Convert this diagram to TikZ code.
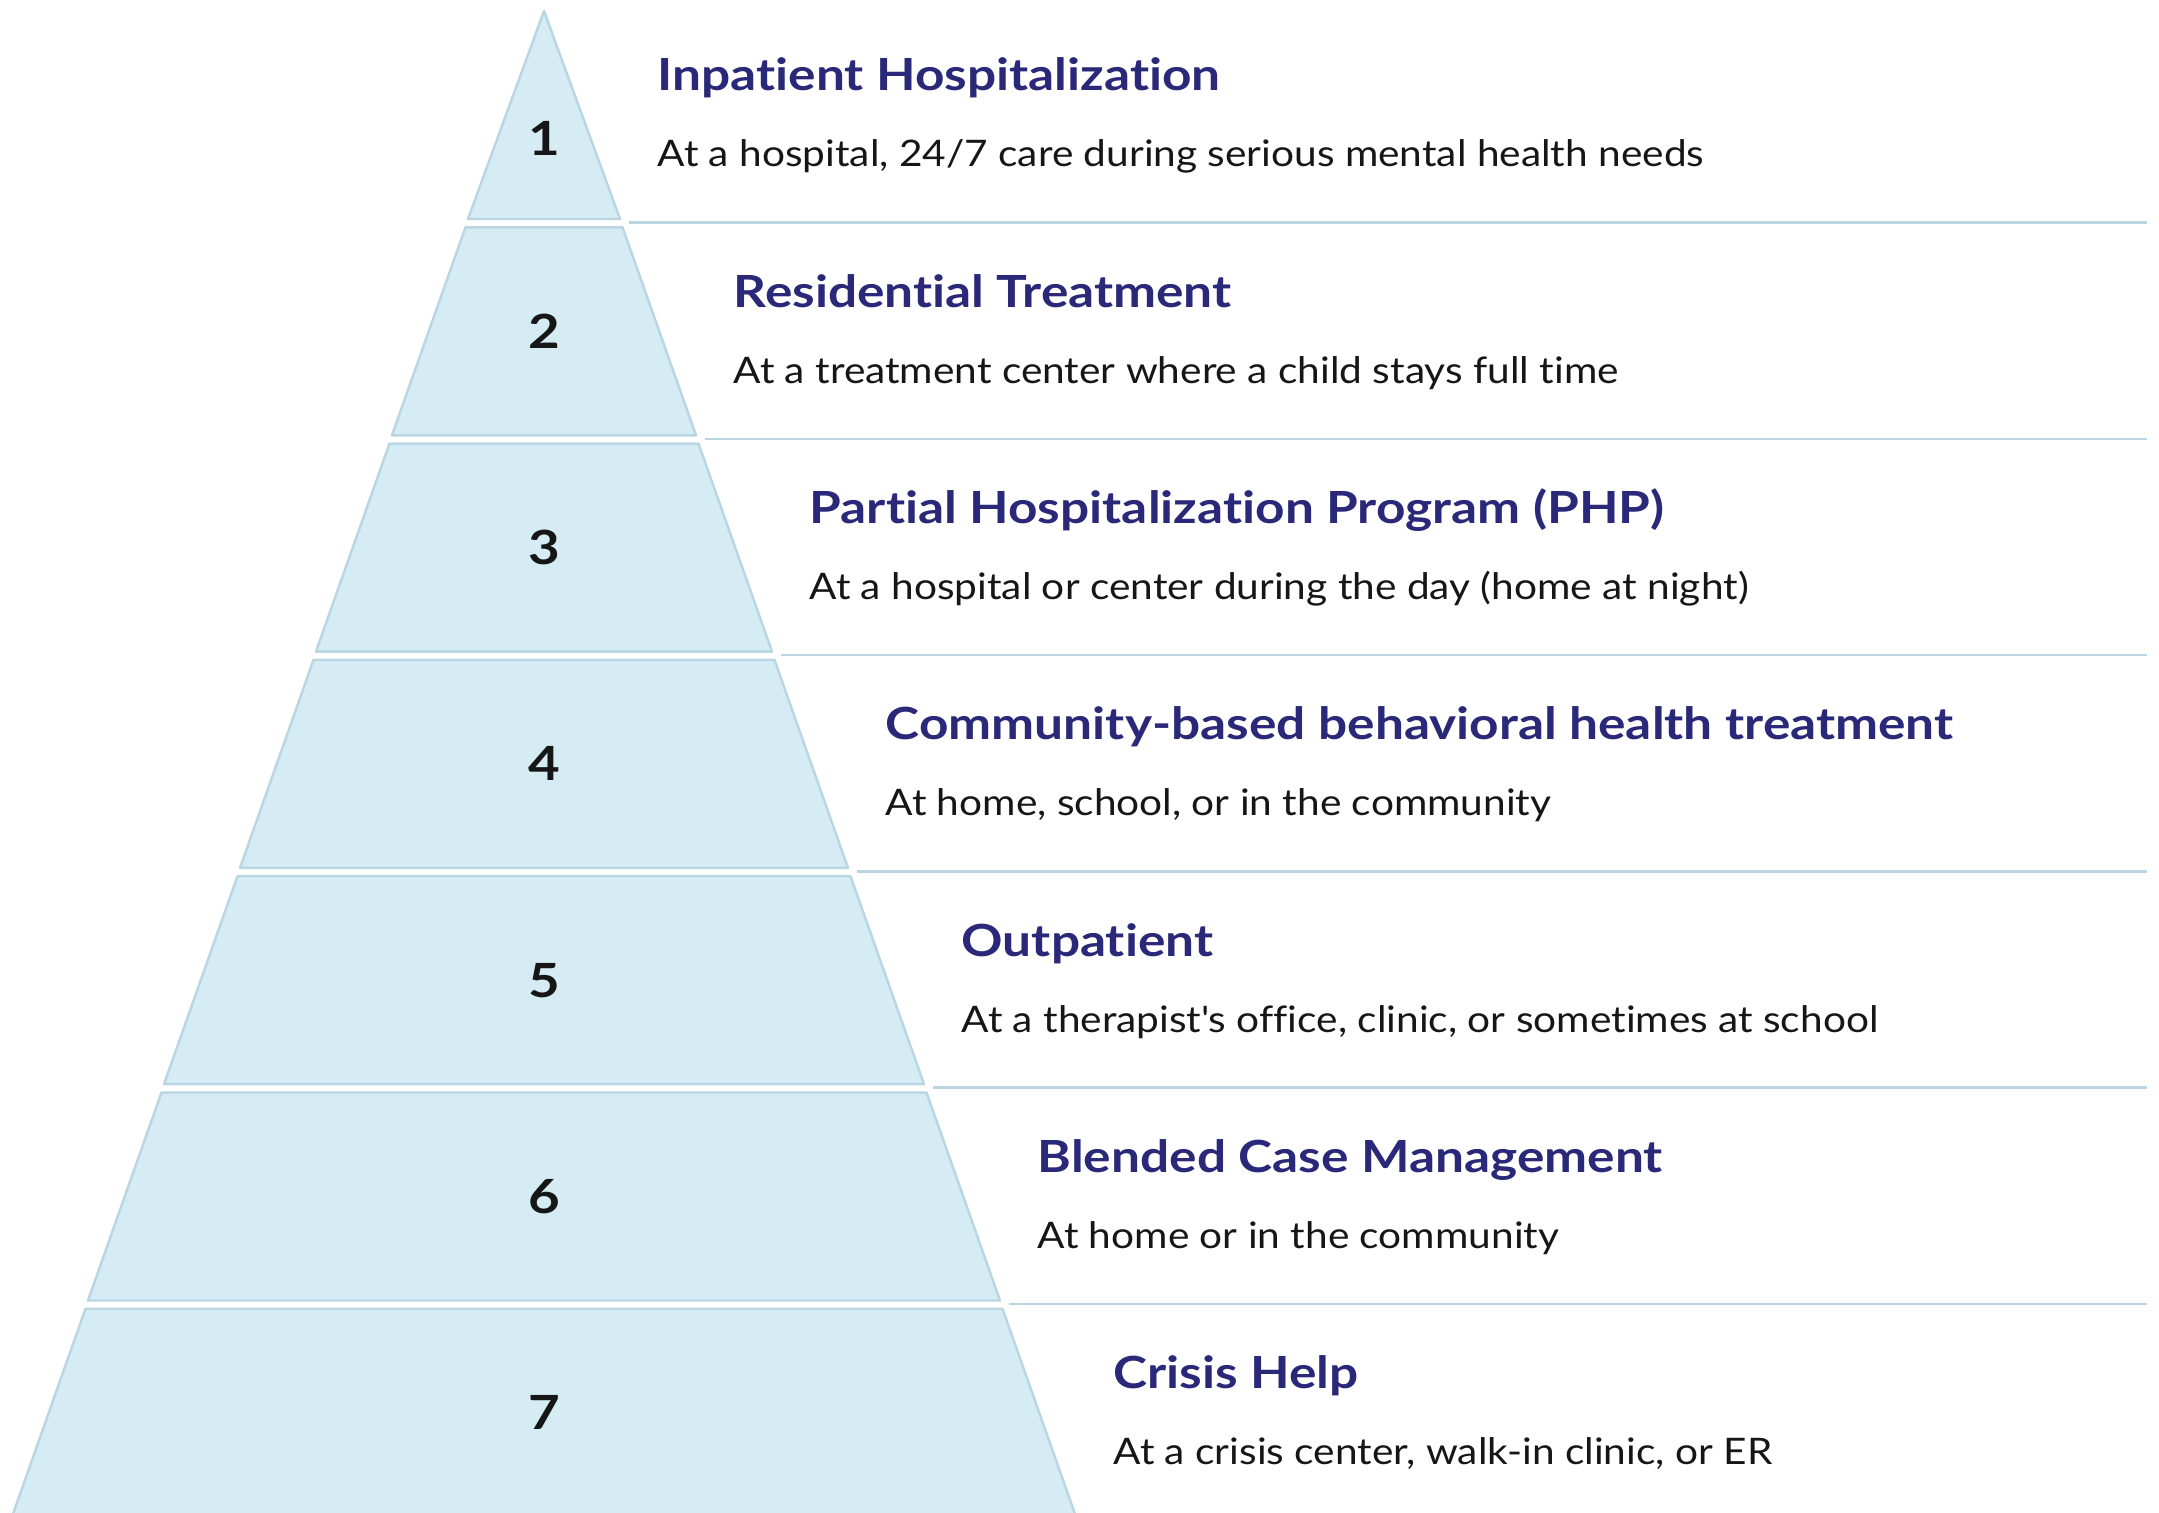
\documentclass[tikz,border=0pt]{standalone}
\usepackage{fontspec}
\setmainfont{Lato}[Ligatures={TeX,NoCommon}]
\newfontfamily\titlefont{Lato}[FakeStretch=1.16, Ligatures={TeX,NoCommon}]
\newfontfamily\descfont{Lato}[FakeStretch=1.11, Ligatures={TeX,NoCommon}]
\definecolor{tierfill}{HTML}{D5ECF5}
\definecolor{tierline}{HTML}{B9D6E2}
\definecolor{titleblue}{HTML}{2A2878}
\definecolor{numblack}{HTML}{161616}
\begin{document}
\begin{tikzpicture}
    [
        x = 0.01cm, y = -0.01cm,
        tier/.style = {fill = tierfill, draw = tierline, line width = 0.7pt, line join = round},
        divider/.style = {draw = tierline, line width = 0.7pt},
        tiernum/.style = {anchor = base, font = \fontsize{13.4}{16}\titlefont\bfseries, text = numblack},
        tiertitle/.style = {anchor = base west, inner sep = 0pt, font = \fontsize{12.6}{15}\titlefont\bfseries, text = titleblue},
        tierdesc/.style = {anchor = base west, inner sep = 0pt, font = \fontsize{10.4}{13}\descfont, text = numblack}
    ]
    \useasboundingbox (0,0) rectangle (2159,1513);
    % pyramid levels, top to bottom
    \foreach \k/\title/\desc in {
        1/Inpatient Hospitalization/{At a hospital, 24/7 care during serious mental health needs},
        2/Residential Treatment/At a treatment center where a child stays full time,
        3/Partial Hospitalization Program (PHP)/At a hospital or center during the day (home at night),
        4/Community-based behavioral health treatment/{At home, school, or in the community},
        5/Outpatient/{At a therapist\textquotesingle s office, clinic, or sometimes at school},
        6/Blended Case Management/At home or in the community,
        7/Crisis Help/{At a crisis center, walk-in clinic, or ER}}
    {
        \pgfmathsetmacro\yt{11 + 216.3*(\k-1)}
        \pgfmathsetmacro\yb{\yt + 208}
        \pgfmathsetmacro\wt{\k == 1 ? 0 : 76*\k - 73.5}
        \pgfmathsetmacro\wb{76*\k}
        \pgfmathsetmacro\yn{\k == 1 ? \yt + 145 : \yt + 121}
        \path [tier] (544-\wt, \yt) -- (544+\wt, \yt) -- (544+\wb, \yb) -- (544-\wb, \yb) -- cycle;
        \node [tiernum] (num\k) at (544, \yn) {\k};
        \node [tiertitle] (title\k) at (581+76*\k, \yt+80) {\title};
        \node [tierdesc] (desc\k) at (581+76*\k, \yt+156) {\desc};
        \ifnum\k<7
            \draw [divider] (552.5+76*\k, \yb+3.5) -- (2147, \yb+3.5);
        \fi
    }
\end{tikzpicture}
\end{document}
